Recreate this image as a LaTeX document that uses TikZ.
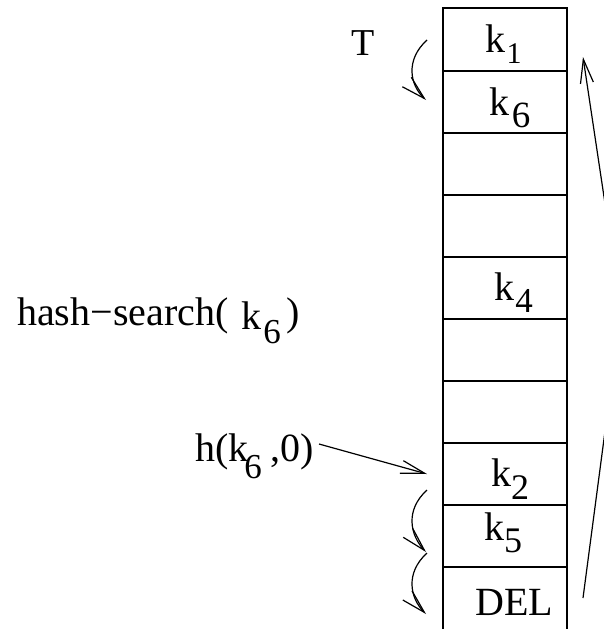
\documentclass[tikz,border=0pt]{standalone}
\usepackage{fontspec}
\setmainfont{Liberation Serif}
\usetikzlibrary{arrows.meta}
\tikzset{
  lbl/.style={inner sep=0pt, anchor=base, font=\fontsize{40}{40}\selectfont},
  lblw/.style={inner sep=0pt, anchor=base west, font=\fontsize{40}{40}\selectfont},
  subs/.style={inner sep=0pt, anchor=base, font=\fontsize{#1}{#1}\selectfont},
  tabline/.style={line width=1.3pt},
  arr/.style={line width=1.2pt, -{Straight Barb[length=24pt,width=13pt,line width=1.2pt]}},
}
\begin{document}
\begin{tikzpicture}[x=1pt,y=-1pt]
\useasboundingbox (0,0) rectangle (604,629);
% table
\draw[tabline] (443,629) -- (443,8) -- (567,8) -- (567,629);
\foreach \yy in {71,133,195,257,319,381,443,505,567}
  \draw[tabline] (443,\yy) -- (567,\yy);
% cell labels
\node[lbl] (k1) at (495,52) {k};
\node[subs=30] (k1s) at (514,63) {1};
\node[lbl] (k6) at (499,115) {k};
\node[subs=37] (k6s) at (521,127) {6};
\node[lbl] (k4) at (504,300) {k};
\node[subs=35] (k4s) at (524,312) {4};
\node[lbl] (k2) at (501,486) {k};
\node[subs=36] (k2s) at (520,499) {2};
\node[lbl] (k5) at (494,540) {k};
\node[subs=36] (k5s) at (513,552) {5};
\node[lbl] (del) at (514,615) {DEL};
% left texts
\node[lbl, font=\fontsize{38}{38}\selectfont] (T) at (363.5,55) {T};
\node[lblw] (hs) at (17,325) {hash−search(};
\node[lbl] (hsk) at (251.5,329) {k};
\node[subs=35] (hsks) at (272,343) {6};
\node[lbl] (hsp) at (293.5,325) {)};
\node[lblw] (h1) at (195,461) {h(k};
\node[subs=35] (h1s) at (253,478) {6};
\node[lblw] (h2) at (270,461) {,0)};
% arrow coordinates
\coordinate (a1s) at (427,40);  \coordinate (a1e) at (426,100);
\coordinate (a2s) at (427,490); \coordinate (a2e) at (426,552);
\coordinate (a3s) at (427,553); \coordinate (a3e) at (426,614);
\coordinate (hs0) at (319,444); \coordinate (he0) at (427,474);
\coordinate (rb) at (583,598);  \coordinate (rm) at (621,310); \coordinate (rt) at (583,57);
% curved probe arrows
\draw[arr] (a1s) .. controls (405,60) and (410,85) .. (a1e);
\draw[arr] (a2s) .. controls (405,510) and (410,535) .. (a2e);
\draw[arr] (a3s) .. controls (405,573) and (410,598) .. (a3e);
% h arrow
\draw[arr] (hs0) -- (he0);
% wrap-around arrow
\begin{scope}
  \clip (0,0) rectangle (604,629);
  \draw[arr] (rb) -- (rm) -- (rt);
\end{scope}
\end{tikzpicture}
\end{document}
